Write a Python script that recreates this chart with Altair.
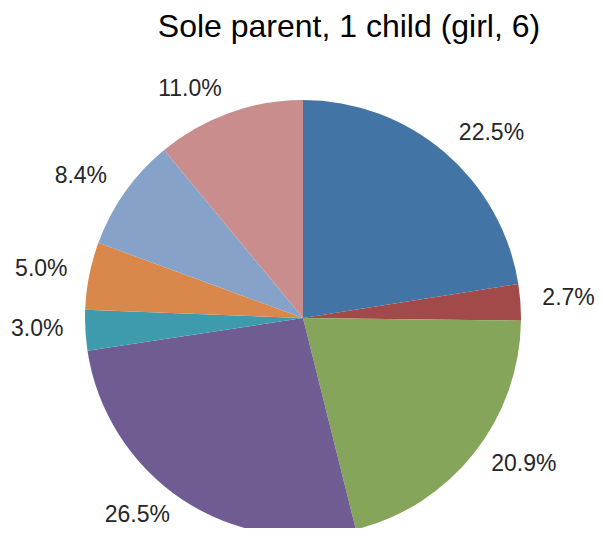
import altair as alt
import pandas as pd

labels = ["22.5%", "2.7%", "20.9%", "26.5%", "3.0%", "5.0%", "8.4%", "11.0%"]
values = [22.5, 2.7, 20.9, 26.5, 3.0, 5.0, 8.4, 11.0]
colors = ["#4374A6", "#A24A4A", "#84A55A", "#6F5C92", "#3E9BAE", "#D9874A", "#87A2C9", "#C98D8D"]
title_text = "Sole parent, 1 child (girl, 6)"

df = pd.DataFrame({"label": labels, "value": values, "idx": list(range(len(values)))})

CX, CY = 295, 310
color_scale = alt.Scale(domain=labels, range=colors)

base = alt.Chart(df)

pie = base.mark_arc(stroke=None, strokeWidth=0).encode(
    theta=alt.Theta("value:Q", stack=True),
    order=alt.Order("idx:Q"),
    color=alt.Color("label:N", scale=color_scale, legend=None),
    x=alt.value(CX), y=alt.value(CY), radius=alt.value(218),
)

with_mid = base.transform_window(
    cum="sum(value)", sort=[alt.SortField("idx")], frame=[None, 0]
).transform_calculate(
    mid="datum.cum - datum.value / 2"
)

theta_mid = alt.Theta("mid:Q", stack=False, scale=alt.Scale(domain=[0, 100], range=[0, 6.283185307]))

right_labels = with_mid.transform_filter("datum.mid < 50").mark_text(
    align="left", baseline="middle", fontSize=23, font="Liberation Sans", color="#262626", dy=-3
).encode(theta=theta_mid, radius=alt.value(240), x=alt.value(CX), y=alt.value(CY), text="label:N")

left_labels = with_mid.transform_filter("datum.mid >= 50").mark_text(
    align="right", baseline="middle", fontSize=23, font="Liberation Sans", color="#262626", dy=-3
).encode(theta=theta_mid, radius=alt.value(240), x=alt.value(CX), y=alt.value(CY), text="label:N")

title = alt.Chart(pd.DataFrame({"t": [title_text]})).mark_text(
    align="center", baseline="middle", fontSize=32, font="Liberation Sans", color="#000000"
).encode(x=alt.value(341), y=alt.value(19), text="t:N")

chart = alt.layer(pie, right_labels, left_labels, title).properties(
    width=587, height=520, autosize=alt.AutoSizeParams(type="none"), padding=0
).configure_view(stroke=None)

chart.save("out.html", embed_options={"renderer": "svg", "actions": False})
